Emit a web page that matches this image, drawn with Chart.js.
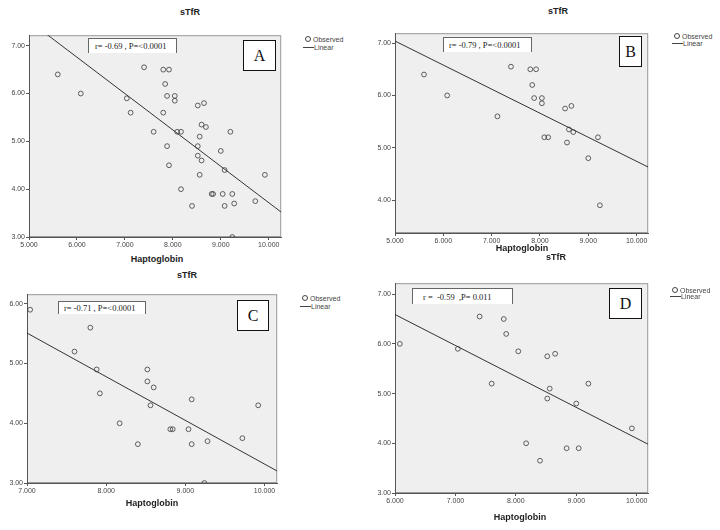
<!DOCTYPE html>
<html>
<head>
<meta charset="utf-8">
<script src="https://cdn.jsdelivr.net/npm/chart.js@4.4.1/dist/chart.umd.min.js"></script>
<style>
  body { margin: 0; width: 720px; height: 530px; position: relative; background: #fff; overflow: hidden; font-family: "Liberation Sans", Arial, sans-serif; }
  canvas { position: absolute; }
  .ttl { position: absolute; font-weight: bold; font-size: 9px; color: #222; transform: translate(-50%, -50%); white-space: nowrap; }
  .leg { position: absolute; font-size: 7px; color: #444; white-space: nowrap; line-height: 1; transform: translateY(-50%); }
  .dot { position: absolute; width: 4px; height: 4px; border: 0.8px solid #444; border-radius: 50%; transform: translate(-50%, -50%); }
  .dash { position: absolute; height: 0; border-top: 1px solid #444; }
  .note { position: absolute; background: #fff; border: 1px solid #666; border-bottom: none; box-sizing: border-box; font-family: "Liberation Serif", "Times New Roman", serif; font-size: 8.5px; color: #222; white-space: pre; line-height: 1; }
  .note span { position: absolute; top: 50%; transform: translateY(-50%); }
  .tag { position: absolute; background: #fff; border: 1.5px solid #111; box-sizing: border-box; font-family: "Liberation Serif", "Times New Roman", serif; font-size: 16px; color: #111; display: flex; align-items: center; justify-content: center; }
</style>
</head>
<body>
<script>
// Panel A – all subjects
const hapA = [5.60, 6.08, 7.04, 7.12, 7.40, 7.60, 7.80, 7.92, 7.84, 7.88, 8.04, 8.04, 7.80, 8.09, 8.17, 7.88, 7.92, 8.17, 8.40, 8.52,
              8.65, 8.60, 8.69, 8.56, 8.52, 8.52, 8.60, 8.56, 8.81, 8.84, 9.04, 9.24, 9.00, 9.08, 9.08, 9.28, 9.20, 9.72, 9.92, 9.24];
const tfrA = [6.40, 6.00, 5.90, 5.60, 6.55, 5.20, 6.50, 6.50, 6.20, 5.95, 5.95, 5.85, 5.60, 5.20, 5.20, 4.90, 4.50, 4.00, 3.65, 5.75,
              5.80, 5.35, 5.30, 5.10, 4.90, 4.70, 4.60, 4.30, 3.90, 3.90, 3.90, 3.90, 4.80, 4.40, 3.65, 3.70, 5.20, 3.75, 4.30, 3.00];
const fitXA = [5.00, 10.26];
const fitYA = [7.52, 3.52];

// Panel B
const hapB = [5.60, 6.08, 7.12, 7.40, 7.80, 7.92, 7.84, 7.88, 8.04, 8.04, 8.09, 8.17, 8.52, 8.65, 8.60, 8.69, 8.56, 9.00, 9.20, 9.24];
const tfrB = [6.40, 6.00, 5.60, 6.55, 6.50, 6.50, 6.20, 5.95, 5.95, 5.85, 5.20, 5.20, 5.75, 5.80, 5.35, 5.30, 5.10, 4.80, 5.20, 3.90];
const fitXB = [5.00, 10.24];
const fitYB = [7.04, 4.63];

// Panel C
const hapC = [7.04, 7.80, 7.60, 7.88, 7.92, 8.17, 8.40, 8.52, 8.52, 8.60, 8.56, 8.81, 8.84, 9.04, 9.08, 9.08, 9.28, 9.72, 9.92, 9.24];
const tfrC = [5.90, 5.60, 5.20, 4.90, 4.50, 4.00, 3.65, 4.90, 4.70, 4.60, 4.30, 3.90, 3.90, 3.90, 4.40, 3.65, 3.70, 3.75, 4.30, 3.00];
const fitXC = [7.00, 10.16];
const fitYC = [5.51, 3.20];

// Panel D
const hapD = [6.08, 7.04, 7.40, 7.60, 7.80, 7.84, 8.04, 8.17, 8.40, 8.52, 8.65, 8.56, 8.52, 8.84, 9.04, 9.00, 9.20, 9.92];
const tfrD = [6.00, 5.90, 6.55, 5.20, 6.50, 6.20, 5.85, 4.00, 3.65, 5.75, 5.80, 5.10, 4.90, 3.90, 3.90, 4.80, 5.20, 4.30];
const fitXD = [6.00, 10.19];
const fitYD = [6.59, 3.98];

const notes = ['r= -0.69 , P=<0.0001', 'r= -0.79 , P=<0.0001', 'r= -0.71 , P=<0.0001', 'r =  -0.59  ,P= 0.011'];
const letters = ['A', 'B', 'C', 'D'];
const xTitle = 'Haptoglobin';
const yTitle = 'sTfR';

const panels = [
  { x: hapA, y: tfrA, fx: fitXA, fy: fitYA, plot: [29, 34, 282, 237], xr: [5, 10.26], yr: [3, 7.22],
    title: [190, 12], axis: [157, 259], leg: [308, 39, 47], note: [88, 38, 177, 53, 6], tag: [243, 40, 276, 71] },
  { x: hapB, y: tfrB, fx: fitXB, fy: fitYB, plot: [395, 32, 649, 233], xr: [5, 10.24], yr: [3.37, 7.19],
    title: [558, 11], axis: [522, 248], leg: [677, 36, 42.5], note: [443, 37, 532, 52, 5], tag: [619, 36, 642, 67] },
  { x: hapC, y: tfrC, fx: fitXC, fy: fitYC, plot: [27, 293, 278, 483], xr: [7, 10.16], yr: [3, 6.16],
    title: [187, 275], axis: [152, 503], leg: [305, 298, 306], note: [58, 301, 146, 314, 5], tag: [237, 300, 269, 331] },
  { x: hapD, y: tfrD, fx: fitXD, fy: fitYD, plot: [395, 282, 649, 493], xr: [6, 10.19], yr: [3, 7.22],
    title: [556, 257], axis: [520, 517], leg: [675, 290, 296], note: [412, 288, 513, 304, 10], tag: [609, 288, 642, 319] }
];

const frame = {
  id: 'frame',
  beforeDraw(ch) {
    const a = ch.chartArea, g = ch.ctx;
    g.save();
    g.fillStyle = '#efefef';
    g.fillRect(a.left, a.top, a.right - a.left, a.bottom - a.top);
    g.strokeStyle = '#9a9a9a';
    g.lineWidth = 1;
    g.strokeRect(a.left + 0.5, a.top + 0.5, a.right - a.left - 1, a.bottom - a.top - 1);
    g.restore();
  }
};

function addDiv(cls, css, html) {
  const d = document.createElement('div');
  d.className = cls;
  d.style.cssText = css;
  if (html !== undefined) d.innerHTML = html;
  document.body.appendChild(d);
  return d;
}

const tickFont = { family: '"Liberation Sans", Arial, sans-serif', size: 7 };

panels.forEach((p, i) => {
  const L = 32, T = 4, R = 4, B = 16;
  const [l, t, r, b] = p.plot;
  const w = (r - l) + L + R, h = (b - t) + T + B;
  const c = document.createElement('canvas');
  c.width = w; c.height = h;
  c.style.cssText = `left:${l - L}px;top:${t - T}px;width:${w}px;height:${h}px`;
  document.body.appendChild(c);

  new Chart(c, {
    data: {
      datasets: [
        {
          type: 'scatter',
          label: 'Observed',
          data: p.x.map((v, k) => ({ x: v, y: p.y[k] })),
          pointRadius: 2.4,
          pointBorderWidth: 0.8,
          borderColor: '#3a3a3a',
          backgroundColor: 'rgba(0,0,0,0)'
        },
        {
          type: 'line',
          label: 'Linear',
          data: p.fx.map((v, k) => ({ x: v, y: p.fy[k] })),
          borderColor: '#333',
          borderWidth: 1,
          pointRadius: 0,
          fill: false
        }
      ]
    },
    options: {
      responsive: false,
      animation: false,
      devicePixelRatio: 1,
      layout: { padding: { left: 0, top: T, right: R, bottom: 0 } },
      plugins: { legend: { display: false }, tooltip: { enabled: false } },
      scales: {
        x: {
          type: 'linear',
          min: p.xr[0], max: p.xr[1],
          afterFit: s => { s.height = B; },
          ticks: { stepSize: 1, includeBounds: false, autoSkip: false, maxRotation: 0, padding: 1,
                   font: tickFont, color: '#444', callback: v => v.toFixed(3) },
          grid: { drawOnChartArea: false, tickLength: 3, color: '#555' },
          border: { color: '#555', width: 1 }
        },
        y: {
          type: 'linear',
          min: p.yr[0], max: p.yr[1],
          afterFit: s => { s.width = L; },
          ticks: { stepSize: 1, includeBounds: false, padding: 1,
                   font: tickFont, color: '#444', callback: v => v.toFixed(2) },
          grid: { drawOnChartArea: false, tickLength: 3, color: '#555' },
          border: { color: '#555', width: 1 }
        }
      }
    },
    plugins: [frame]
  });

  addDiv('ttl', `left:${p.title[0]}px;top:${p.title[1]}px`, yTitle);
  addDiv('ttl', `left:${p.axis[0]}px;top:${p.axis[1]}px`, xTitle);

  const [lx, ly1, ly2] = p.leg;
  addDiv('dot', `left:${lx}px;top:${ly1}px`);
  addDiv('leg', `left:${lx + 5}px;top:${ly1}px`, 'Observed');
  addDiv('dash', `left:${lx - 5}px;top:${ly2}px;width:11px`);
  addDiv('leg', `left:${lx + 6}px;top:${ly2}px`, 'Linear');

  const [nx1, ny1, nx2, ny2, pad] = p.note;
  addDiv('note', `left:${nx1}px;top:${ny1}px;width:${nx2 - nx1}px;height:${ny2 - ny1}px`,
         `<span style="left:${pad}px">${notes[i]}</span>`);

  const [tx1, ty1, tx2, ty2] = p.tag;
  addDiv('tag', `left:${tx1}px;top:${ty1}px;width:${tx2 - tx1}px;height:${ty2 - ty1}px`, letters[i]);
});
</script>
</body>
</html>
